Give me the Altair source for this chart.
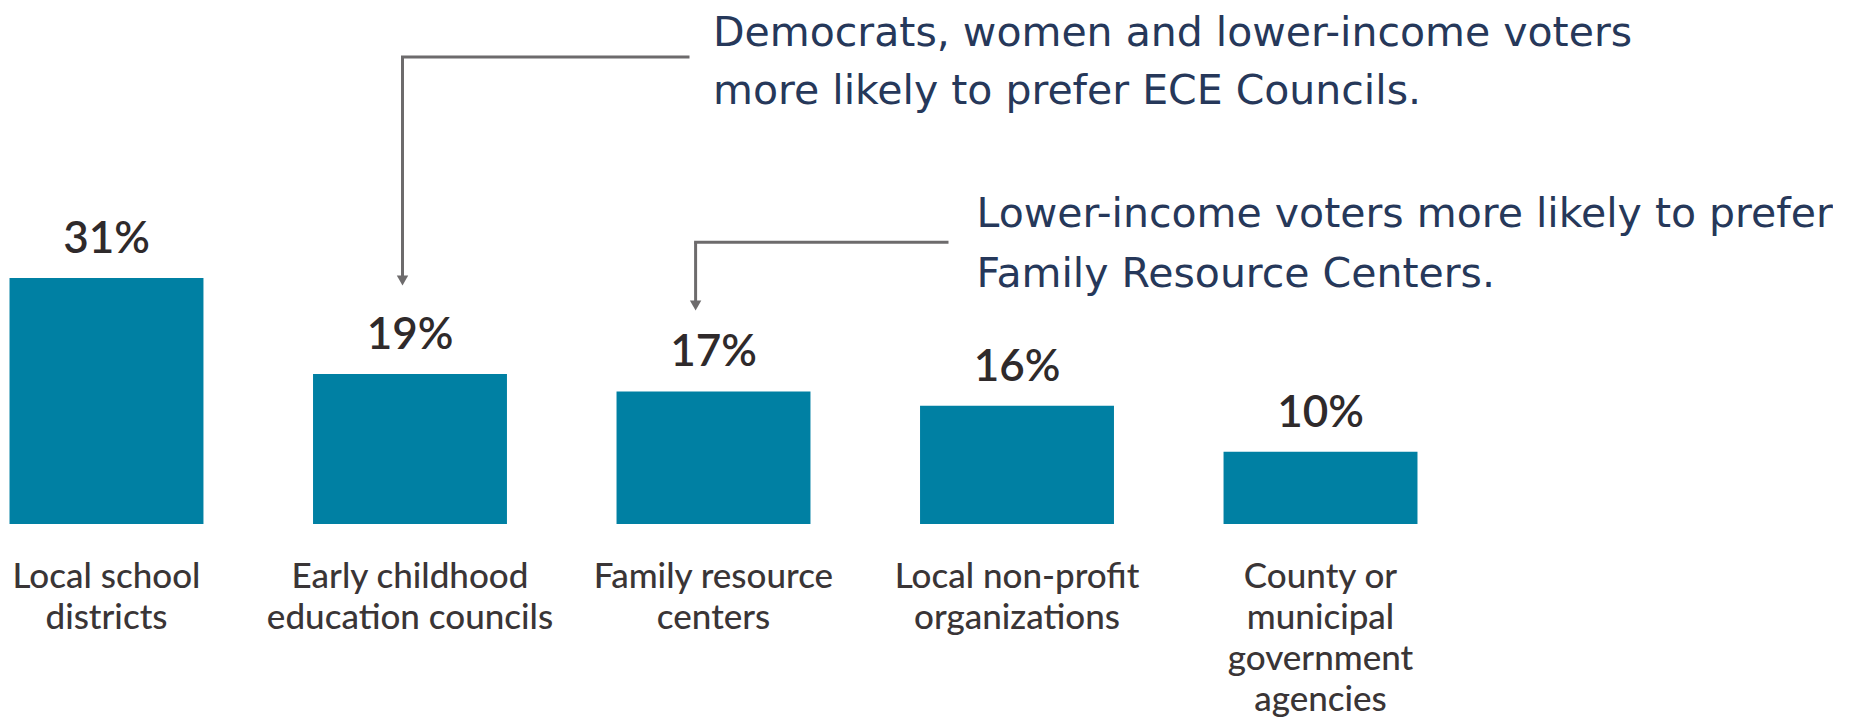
import altair as alt
import pandas as pd

categories = [
    "Local school|districts",
    "Early childhood|education councils",
    "Family resource|centers",
    "Local non-profit|organizations",
    "County or|municipal|government|agencies",
]
# bar heights (percent)
values = [31.0, 18.9, 16.7, 14.9, 9.1]
value_labels = ["31%", "19%", "17%", "16%", "10%"]
note_texts = [
    "Democrats, women and lower-income voters\nmore likely to prefer ECE Councils.",
    "Lower-income voters more likely to prefer\nFamily Resource Centers.",
]

df = pd.DataFrame({"category": categories, "value": values, "label": value_labels})

BAR = "#0080a3"
ARROW = "#6d6b6c"
NOTE = "#26385a"
H = 516

base = alt.Chart(df).encode(
    x=alt.X(
        "category:N",
        sort=categories,
        scale=alt.Scale(paddingInner=0.361, paddingOuter=0.005),
        axis=alt.Axis(
            title=None,
            labelExpr="split(datum.label, '|')",
            labelAngle=0,
            labelFont="Lato",
            labelFontSize=35,
            labelFontWeight=500,
            labelColor="#3a3536",
            labelLineHeight=41,
            labelPadding=35,
            labelLimit=0,
            labelBaseline="top",
            domain=False,
            ticks=False,
            tickSize=0,
            grid=False,
        ),
    )
)

bars = base.mark_bar(color=BAR).encode(
    y=alt.Y("value:Q", scale=alt.Scale(domain=[0, H / 8.1]), axis=None)
)
vlabels = base.mark_text(
    dy=-25, baseline="alphabetic", font="Lato", fontSize=44, fontWeight=600, color="#2f2a2b"
).encode(y="value:Q", text="label:N")

one = pd.DataFrame({"k": [0]})

def note(text, x, y, lh):
    return alt.Chart(pd.DataFrame({"t": [text]})).mark_text(
        align="left", baseline="alphabetic", font="DejaVu Sans", fontSize=41,
        lineHeight=lh, color=NOTE, lineBreak="\n"
    ).encode(x=alt.value(x), y=alt.value(y), text="t:N")

def vline(x, y1, y2):
    return alt.Chart(one).mark_rule(color=ARROW, strokeWidth=3).encode(
        x=alt.value(x), y=alt.value(y1), y2=alt.value(y2))

def hline(x1, x2, y):
    return alt.Chart(one).mark_rule(color=ARROW, strokeWidth=3, strokeCap="square").encode(
        x=alt.value(x1), x2=alt.value(x2), y=alt.value(y))

def head(x, y):
    return alt.Chart(one).mark_point(shape="triangle-down", filled=True, size=130,
                                     color=ARROW, opacity=1).encode(
        x=alt.value(x), y=alt.value(y))

chart = alt.layer(
    bars, vlabels,
    hline(394.5, 680, 49), vline(394.5, 49, 268), head(394.5, 272.5),
    hline(687.6, 939, 234.3), vline(687.6, 234.3, 293), head(687.6, 297.5),
    note(note_texts[0], 705, 38, 58),
    note(note_texts[1], 968.6, 219, 60),
).properties(
    width=1411, height=H, padding=0, background="white",
).configure_view(stroke=None)

chart.save("out.html", embed_options={"renderer": "svg", "actions": False})
